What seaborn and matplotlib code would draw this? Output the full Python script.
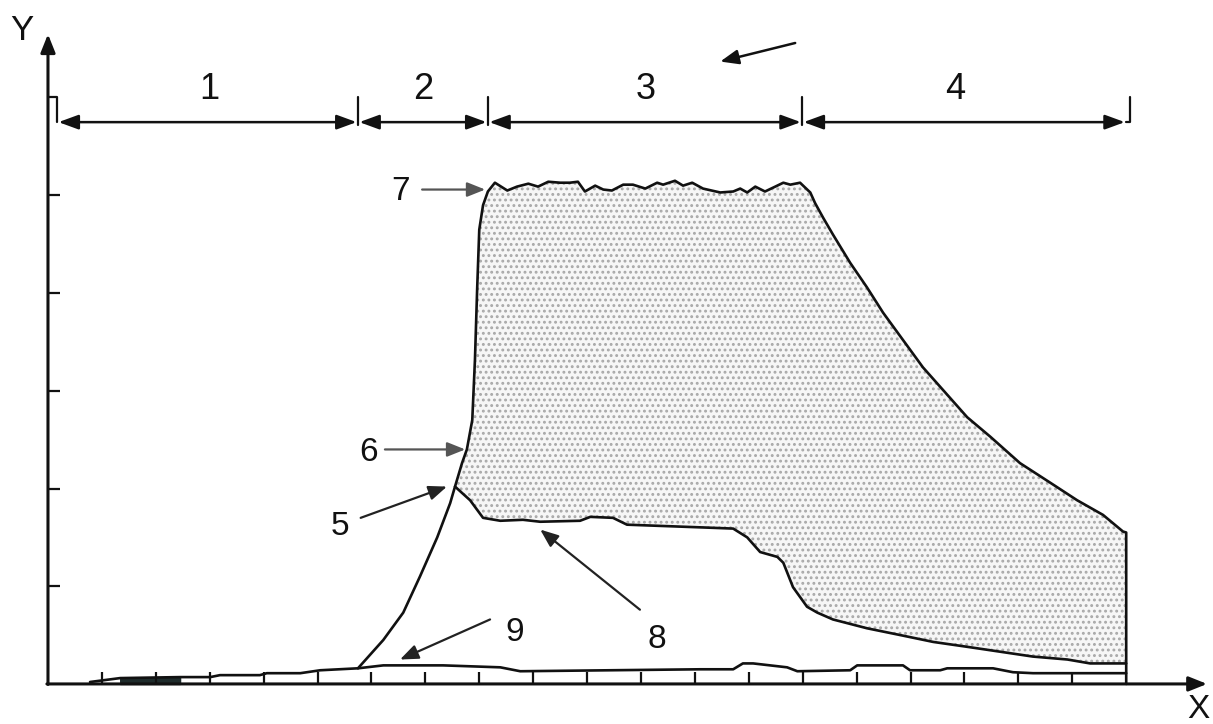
import numpy as np
import matplotlib
matplotlib.use("Agg")
import matplotlib.pyplot as plt
import seaborn as sns

# ── curve data (x in tick units, y in y-tick units) ─────────
top_x = [5.75, 6.22, 6.59, 6.90, 7.22, 7.46, 7.55, 7.68, 7.77, 7.87, 7.92, 7.96, 8.00, 8.07, 8.16,
         8.29, 8.52, 8.70, 8.91, 9.09, 9.28, 9.50, 9.68, 9.83, 9.96, 10.15, 10.30, 10.46, 10.67,
         10.85, 11.08, 11.30, 11.41, 11.63, 11.78, 11.95, 12.15, 12.47, 12.71, 12.84, 12.97, 13.12,
         13.30, 13.49, 13.64, 13.77, 13.95, 14.14, 14.23, 14.38, 14.56, 14.88, 15.19, 15.49, 15.86,
         16.23, 16.60, 17.05, 17.48, 18.03, 18.59, 19.09, 19.57, 19.94, 20.00, 20.00]
top_y = [0.16, 0.45, 0.73, 1.10, 1.50, 1.85, 2.02, 2.26, 2.40, 2.70, 3.32, 4.03, 4.65, 4.90, 5.04,
         5.13, 5.05, 5.09, 5.12, 5.09, 5.14, 5.13, 5.13, 5.14, 5.04, 5.10, 5.06, 5.05, 5.11,
         5.11, 5.07, 5.13, 5.11, 5.15, 5.10, 5.13, 5.07, 5.03, 5.04, 5.07, 5.03, 5.09,
         5.04, 5.09, 5.13, 5.11, 5.13, 5.03, 4.92, 4.77, 4.60, 4.31, 4.06, 3.80, 3.52,
         3.24, 3.01, 2.73, 2.53, 2.26, 2.06, 1.88, 1.73, 1.56, 1.55, 0.00]

low_x = [7.55, 7.83, 8.07, 8.39, 8.81, 9.13, 9.87, 10.06, 10.48, 10.74, 12.23, 12.71, 12.97, 13.21,
         13.53, 13.64, 13.82, 14.08, 14.27, 14.56, 15.19, 15.81, 16.42, 17.05, 17.66, 18.27, 18.91,
         19.33, 20.00]
low_y = [2.02, 1.88, 1.70, 1.67, 1.68, 1.66, 1.67, 1.71, 1.70, 1.63, 1.60, 1.59, 1.50, 1.35,
         1.30, 1.24, 0.99, 0.79, 0.73, 0.66, 0.57, 0.50, 0.43, 0.38, 0.33, 0.28, 0.25,
         0.21, 0.21]

base_x = [0.78, 1.34, 2.45, 3.01, 3.19, 3.93, 4.06, 4.68, 5.05, 5.75, 6.22, 7.33, 8.39, 8.76, 12.10,
          12.71, 12.89, 13.08, 13.71, 13.90, 14.88, 15.01, 15.86, 15.99, 16.55, 16.68, 17.53, 17.90,
          18.27, 20.00]
base_y = [0.02, 0.06, 0.07, 0.07, 0.09, 0.09, 0.11, 0.11, 0.14, 0.16, 0.19, 0.19, 0.17, 0.13, 0.15,
          0.15, 0.21, 0.21, 0.17, 0.13, 0.14, 0.19, 0.19, 0.14, 0.14, 0.16, 0.16, 0.12,
          0.11, 0.11]

# zones along the top dimension line
zone_edges = [0.17, 5.75, 8.16, 13.99, 20.0]
zone_labels = ["1", "2", "3", "4"]
zone_label_x = [3.0, 6.96, 11.08, 16.83]

x_ticks = list(range(1, 20))
y_ticks = [1, 2, 3, 4, 5]

# callouts: label, text pos, arrow tail, arrow head
callouts = [
    ("7", (6.53, 5.04), (6.94, 5.06), (8.11, 5.06), "#555555"),
    ("6", (5.94, 2.37), (6.25, 2.40), (7.74, 2.40), "#555555"),
    ("5", (5.42, 1.61), (5.80, 1.70), (7.40, 2.02), "#222222"),
    ("8", (11.30, 0.45), (10.98, 0.76), (9.13, 1.58), "#222222"),
    ("9", (8.66, 0.53), (8.20, 0.66), (6.53, 0.25), "#222222"),
]

sns.set_theme(style="white")
plt.rcParams["font.family"] = ["Liberation Sans", "DejaVu Sans"]
plt.rcParams["hatch.linewidth"] = 1.3

fig = plt.figure(figsize=(12.13, 7.24), dpi=100)
ax = fig.add_axes([0, 0, 1, 1])
ax.set_xlim(-0.89, 21.61)
ax.set_ylim(-0.41, 7.0)
ax.axis("off")

ink = "#111111"
head = "-|>,head_length=0.55,head_width=0.22"

# stippled zone between the top curve and curve 8
tx = np.array(top_x[:-1]); ty = np.array(top_y[:-1])
m = tx >= low_x[0]
poly_x = np.concatenate([tx[m], np.array(low_x)[::-1]])
poly_y = np.concatenate([ty[m], np.array(low_y)[::-1]])
ax.fill(poly_x, poly_y, facecolor="#f6f6f6", edgecolor="none", zorder=1)
ax.fill(poly_x, poly_y, facecolor="none", edgecolor="#a8a8a8", linewidth=0,
        hatch="...", zorder=1)

# dark strip near the start of curve 9
bx = np.array(base_x); by = np.array(base_y)
sm = (bx >= 1.3) & (bx <= 2.5)
ax.fill_between(bx[sm], 0, by[sm], color="#1e2b2b", zorder=2)

for xs, ys in [(top_x, top_y), (low_x, low_y), (base_x, base_y)]:
    sns.lineplot(x=xs, y=ys, sort=False, estimator=None, color=ink, lw=1.9, ax=ax, zorder=3)

# axes with arrows
ax.annotate("", xy=(0, 6.65), xytext=(0, -0.005),
            arrowprops=dict(arrowstyle=head, color=ink, lw=2.2, mutation_scale=20,
                            shrinkA=0, shrinkB=0))
ax.annotate("", xy=(21.5, 0), xytext=(-0.02, 0),
            arrowprops=dict(arrowstyle=head, color=ink, lw=2.2, mutation_scale=20,
                            shrinkA=0, shrinkB=0))
ax.text(-0.48, 6.69, "Y", fontsize=25, ha="center", va="center", color=ink)
ax.text(21.34, -0.26, "X", fontsize=24, ha="center", va="center", color=ink)

ax.vlines(x_ticks, 0, 0.12, color=ink, lw=1.6, zorder=3)
ax.hlines(y_ticks, 0, 0.22, color=ink, lw=1.6)

# dimension line with zones
ax.plot([0, zone_edges[0], zone_edges[0]], [6.01, 6.01, 5.75], color=ink, lw=1.6)
for xe in zone_edges[1:-1]:
    ax.plot([xe, xe], [5.72, 6.01], color=ink, lw=1.6)
ax.plot([zone_edges[-1], zone_edges[-1] + 0.07, zone_edges[-1] + 0.07], [5.75, 5.75, 6.01],
        color=ink, lw=1.6)
for a, b in zip(zone_edges[:-1], zone_edges[1:]):
    ax.annotate("", xy=(b, 5.75), xytext=(a, 5.75),
                arrowprops=dict(arrowstyle="<|-|>,head_length=0.6,head_width=0.22", color=ink,
                                lw=1.8, mutation_scale=20, shrinkA=1, shrinkB=1))
for lab, xl in zip(zone_labels, zone_label_x):
    ax.text(xl, 6.08, lab, fontsize=26, ha="center", va="center", color=ink)

# loose arrow at the top
ax.annotate("", xy=(12.47, 6.37), xytext=(13.86, 6.56),
            arrowprops=dict(arrowstyle=head, color=ink, lw=1.8, mutation_scale=20,
                            shrinkA=0, shrinkB=0))

for lab, tpos, tail, tip, col in callouts:
    ax.text(*tpos, lab, fontsize=24, ha="center", va="center", color=ink)
    ax.annotate("", xy=tip, xytext=tail,
                arrowprops=dict(arrowstyle=head, color=col, lw=1.6, mutation_scale=20,
                                shrinkA=0, shrinkB=0))

fig.savefig("out.png", dpi=100)
